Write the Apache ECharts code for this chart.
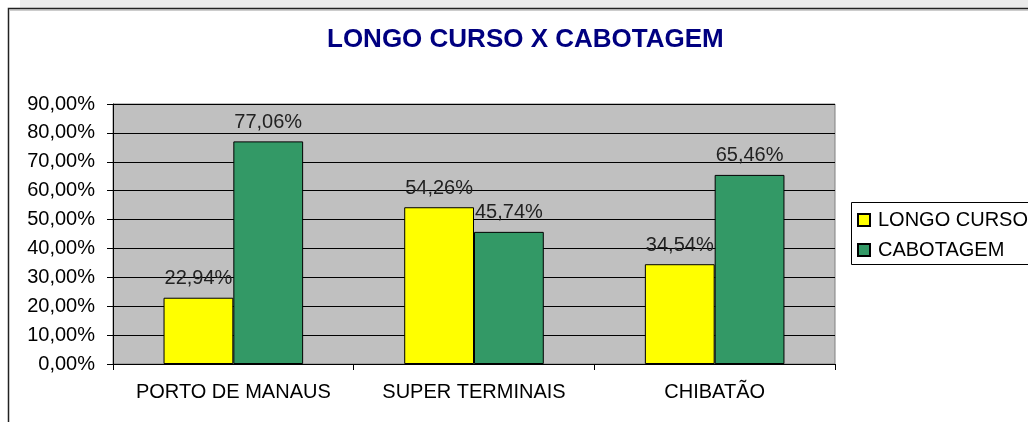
<!DOCTYPE html>
<html>
<head>
<meta charset="utf-8">
<script src="https://cdn.jsdelivr.net/npm/echarts@6/dist/echarts.min.js"></script>
<style>
html,body{margin:0;padding:0;background:#fff;}
#chart{width:1028px;height:422px;}
</style>
</head>
<body>
<div id="chart"></div>
<script>
var titleText = 'LONGO CURSO X CABOTAGEM';
var categories = ['PORTO DE MANAUS', 'SUPER TERMINAIS', 'CHIBATÃO'];
var seriesNames = ['LONGO CURSO', 'CABOTAGEM'];
var longoCurso = [22.94, 54.26, 34.54];
var cabotagem = [77.06, 45.74, 65.46];
var yTicks = [0, 10, 20, 30, 40, 50, 60, 70, 80, 90];

function pct(v) { return Number(v).toFixed(2).replace('.', ',') + '%'; }

var FONT = '"Liberation Sans", Arial, sans-serif';
var chart = echarts.init(document.getElementById('chart'), null, {renderer: 'canvas'});
var option = {
  backgroundColor: '#ffffff',
  animation: false,
  title: {
    text: titleText,
    left: 327,
    top: 27,
    padding: 0,
    textStyle: {fontFamily: FONT, fontSize: 26, fontWeight: 'bold', color: '#000080'}
  },
  graphic: [
    {type: 'rect', shape: {x: 20, y: 0, width: 1008, height: 8}, style: {fill: '#ebebeb'}, silent: true, z: -1},
    {type: 'polyline', shape: {points: [[8.5, 422], [8.5, 8.5], [1028, 8.5]]}, style: {stroke: '#222', lineWidth: 1.5, fill: null}, silent: true},
    {type: 'line', shape: {x1: 10, y1: 10, x2: 1028, y2: 10}, style: {stroke: '#999', lineWidth: 1}, silent: true},
    {type: 'rect', shape: {x: 851.5, y: 202.5, width: 300, height: 62}, style: {stroke: '#000', lineWidth: 1, fill: null}, silent: true}
  ],
  legend: {
    orient: 'vertical',
    left: 851,
    top: 202,
    padding: [8, 4, 5, 6],
    itemGap: 10,
    itemWidth: 12,
    itemHeight: 12,
    icon: 'rect',
    data: seriesNames,
    textStyle: {fontFamily: FONT, fontSize: 20, color: '#000', lineHeight: 20, padding: [0, 0, 0, 3]}
  },
  grid: {
    left: 113, top: 104, right: 193, bottom: 58,
    show: true, backgroundColor: '#c0c0c0', borderColor: '#808080', borderWidth: 1
  },
  xAxis: {
    type: 'category',
    data: categories,
    axisLine: {lineStyle: {color: '#000', width: 1}},
    axisTick: {show: true, length: 6, interval: 0, lineStyle: {color: '#000'}},
    axisLabel: {fontFamily: FONT, fontSize: 20, color: '#000', margin: 18, interval: 0}
  },
  yAxis: {
    type: 'value',
    min: yTicks[0],
    max: yTicks[yTicks.length - 1],
    interval: 10,
    axisLine: {show: true, lineStyle: {color: '#000', width: 1}},
    axisTick: {show: true, length: 6, lineStyle: {color: '#000'}},
    splitLine: {show: true, lineStyle: {color: '#000', width: 1}},
    axisLabel: {fontFamily: FONT, fontSize: 20, color: '#000', margin: 18, formatter: pct}
  },
  series: [
    {
      name: seriesNames[0], type: 'bar', data: longoCurso,
      barGap: '0%', barCategoryGap: '42%',
      itemStyle: {color: '#ffff00', borderColor: '#000', borderWidth: 1},
      label: {show: true, position: 'top', distance: 9, fontFamily: FONT, fontSize: 20, color: '#222',
        formatter: function (p) { return pct(p.value); }}
    },
    {
      name: seriesNames[1], type: 'bar', data: cabotagem,
      barGap: '0%', barCategoryGap: '42%',
      itemStyle: {color: '#339966', borderColor: '#000', borderWidth: 1},
      label: {show: true, position: 'top', distance: 9, fontFamily: FONT, fontSize: 20, color: '#222',
        formatter: function (p) { return pct(p.value); }}
    }
  ]
};
chart.setOption(option);
</script>
</body>
</html>
